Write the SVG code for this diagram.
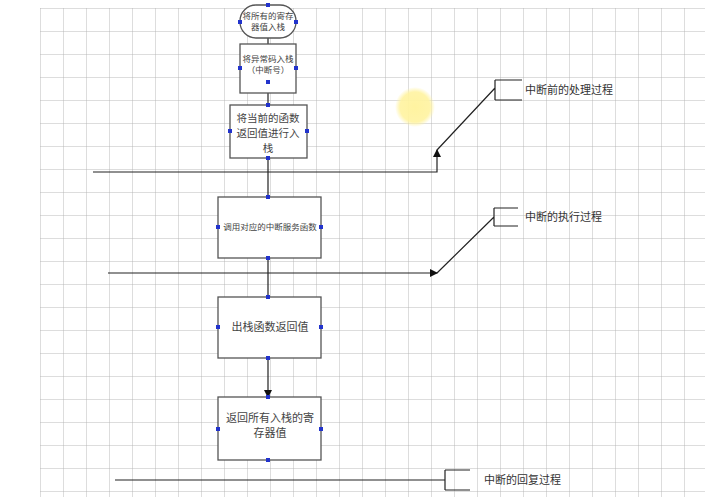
<svg xmlns="http://www.w3.org/2000/svg" width="720" height="497" viewBox="0 0 720 497">
<defs>
<pattern id="g" width="23" height="23" patternUnits="userSpaceOnUse" x="40" y="8"><path d="M0 0V23M0 0H23" fill="none" stroke="#b4b4b4" stroke-width="0.9"/></pattern>
<marker id="a" markerWidth="8" markerHeight="8" refX="7" refY="4" orient="auto" markerUnits="userSpaceOnUse"><path d="M0 0L8 4L0 8Z" fill="#111"/></marker>
<radialGradient id="y"><stop offset="0" stop-color="#fff3a0"/><stop offset="0.75" stop-color="#fff3a0" stop-opacity="0.9"/><stop offset="1" stop-color="#fff3a0" stop-opacity="0"/></radialGradient>
</defs>
<style>.n{fill:#fff;stroke:#555;stroke-width:1.3}.t{font-family:"Noto Sans CJK SC",sans-serif;fill:#444;text-anchor:middle}.l{font-family:"Noto Sans CJK SC",sans-serif;fill:#333;font-size:11px}.h{fill:#2233cc}.c{stroke:#222;stroke-width:1.2;fill:none}</style>
<rect width="720" height="497" fill="#fff"/>
<rect x="40" y="8" width="665" height="489" fill="url(#g)"/>
<circle cx="415" cy="107" r="20" fill="url(#y)"/>
<g id="connectors">
<path class="c" d="M268 38V44M268 93V105M268 158V197M268 258V297M268 358V397" marker-end="url(#a)"/>
<path class="c" d="M93 172H437V150" marker-end="url(#a)"/>
<path class="c" d="M437 150L495 88M495 80V100M495 80H522M495 100H522"/>
<path class="c" d="M108 273H437" marker-end="url(#a)"/>
<path class="c" d="M437 273L494 217M494 208V226M494 208H518M494 226H518"/>
<path class="c" d="M115 480H445M445 470V490M445 470H470M445 490H470"/>
</g>
<g id="n1"><rect class="n" x="240" y="5" width="56" height="33" rx="16"/><text class="t" font-size="8.5" x="268" y="19">将所有的寄存</text><text class="t" font-size="8.5" x="268" y="30">器值入栈</text><rect class="h" x="266" y="3" width="4" height="4"/><rect class="h" x="238" y="20" width="4" height="4"/><rect class="h" x="294" y="20" width="4" height="4"/></g>
<g id="n2"><rect class="n" x="240" y="44" width="56" height="49"/><text class="t" font-size="8.5" x="268" y="62">将异常码入栈</text><text class="t" font-size="8.5" x="268" y="73">（中断号）</text><rect class="h" x="238" y="66" width="4" height="4"/><rect class="h" x="294" y="66" width="4" height="4"/><rect class="h" x="266" y="80" width="4" height="4"/></g>
<g id="n3"><rect class="n" x="230" y="105" width="77" height="53"/><text class="t" font-size="10.5" x="268" y="122">将当前的函数</text><text class="t" font-size="10.5" x="268" y="137">返回值进行入</text><text class="t" font-size="10.5" x="268" y="152">栈</text><rect class="h" x="266" y="103" width="4" height="4"/><rect class="h" x="228" y="129" width="4" height="4"/><rect class="h" x="305" y="129" width="4" height="4"/><rect class="h" x="266" y="156" width="4" height="4"/></g>
<g id="n4"><rect class="n" x="218" y="197" width="103" height="61"/><text class="t" font-size="8.5" x="270" y="230">调用对应的中断服务函数</text><rect class="h" x="266" y="195" width="4" height="4"/><rect class="h" x="216" y="225" width="4" height="4"/><rect class="h" x="319" y="225" width="4" height="4"/><rect class="h" x="266" y="256" width="4" height="4"/></g>
<g id="n5"><rect class="n" x="218" y="297" width="103" height="61"/><text class="t" font-size="11" x="270" y="331">出栈函数返回值</text><rect class="h" x="266" y="295" width="4" height="4"/><rect class="h" x="216" y="325" width="4" height="4"/><rect class="h" x="319" y="325" width="4" height="4"/><rect class="h" x="266" y="356" width="4" height="4"/></g>
<g id="n6"><rect class="n" x="218" y="397" width="103" height="63"/><text class="t" font-size="11" x="270" y="422">返回所有入栈的寄</text><text class="t" font-size="11" x="270" y="437">存器值</text><rect class="h" x="266" y="395" width="4" height="4"/><rect class="h" x="216" y="427" width="4" height="4"/><rect class="h" x="319" y="427" width="4" height="4"/><rect class="h" x="266" y="458" width="4" height="4"/></g>
<text class="l" x="525" y="94">中断前的处理过程</text>
<text class="l" x="525" y="221">中断的执行过程</text>
<text class="l" x="484" y="484">中断的回复过程</text>
</svg>
